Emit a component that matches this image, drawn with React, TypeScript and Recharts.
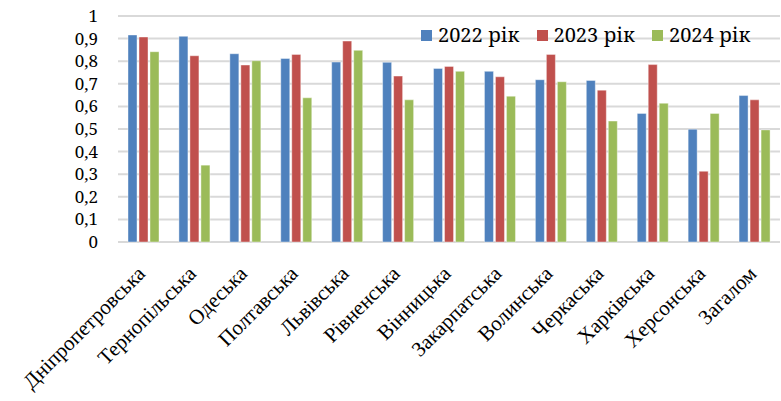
import React from "react"
import { Bar, BarChart, CartesianGrid, Legend, XAxis, YAxis } from "recharts"

const regions = [
  "Дніпропетровська",
  "Тернопільська",
  "Одеська",
  "Полтавська",
  "Львівська",
  "Рівненська",
  "Вінницька",
  "Закарпатська",
  "Волинська",
  "Черкаська",
  "Харківська",
  "Херсонська",
  "Загалом",
]

const values2022 = [0.916, 0.91, 0.833, 0.812, 0.796, 0.795, 0.768, 0.755, 0.718, 0.715, 0.569, 0.499, 0.648]
const values2023 = [0.907, 0.824, 0.783, 0.83, 0.889, 0.734, 0.777, 0.731, 0.83, 0.672, 0.785, 0.313, 0.629]
const values2024 = [0.842, 0.34, 0.802, 0.638, 0.848, 0.629, 0.755, 0.645, 0.709, 0.535, 0.614, 0.569, 0.496]

const yTicks = [0, 0.1, 0.2, 0.3, 0.4, 0.5, 0.6, 0.7, 0.8, 0.9, 1]

const series = [
  { key: "y2022", name: "2022 рік", color: "#4f81bd", values: values2022 },
  { key: "y2023", name: "2023 рік", color: "#c0504d", values: values2023 },
  { key: "y2024", name: "2024 рік", color: "#9bbb59", values: values2024 },
]

const data = regions.map((name, i) => {
  const row: Record<string, string | number> = { name }
  series.forEach((s) => {
    row[s.key] = s.values[i]
  })
  return row
})

// category labels look like Times, ticks and legend like Cambria
const labelFont = "Liberation Serif"
const numFont = "Noto Serif"

function RegionTick(props: any) {
  const { x, y, payload } = props
  const px = x + 3
  const py = y + 33
  return (
    <g style={{ fontFamily: labelFont }}>
      <text
        x={px}
        y={py}
        transform={`rotate(-45, ${px}, ${py})`}
        textAnchor="end"
        fontFamily={labelFont}
        style={{ fontFamily: labelFont, fontSize: 21 }}
        fill="#000"
      >
        {payload.value}
      </text>
    </g>
  )
}

function LegendBox() {
  return (
    <div style={{ display: "flex", fontFamily: numFont, fontSize: 20, lineHeight: "22px", color: "#000" }}>
      {series.map((s) => (
        <div key={s.key} style={{ display: "flex", alignItems: "center", width: 115.5 }}>
          <span style={{ width: 11, height: 11, background: s.color, marginRight: 6, display: "inline-block" }} />
          <span style={{ whiteSpace: "nowrap" }}>{s.name}</span>
        </div>
      ))}
    </div>
  )
}

export default function App() {
  return (
    <div style={{ position: "absolute", left: 0, top: 0, background: "#fff" }}>
      <BarChart
        width={781}
        height={401}
        data={data}
        margin={{ top: 16, right: 1, bottom: 0, left: 0 }}
        barSize={9}
        barGap={2}
      >
        <CartesianGrid vertical={false} stroke="#d9d9d9" strokeWidth={2} />
        <XAxis
          dataKey="name"
          interval={0}
          height={159}
          tickLine={false}
          axisLine={false}
          tickSize={0}
          tickMargin={0}
          tick={<RegionTick />}
        />
        <YAxis
          width={118}
          domain={[0, 1]}
          ticks={yTicks}
          interval={0}
          tickLine={false}
          axisLine={false}
          tickSize={0}
          tickMargin={20}
          tick={{ fontFamily: numFont, fontSize: 17, fill: "#000" }}
          tickFormatter={(v) => String(v).replace(".", ",")}
        />
        <Legend
          layout="vertical"
          align="center"
          verticalAlign="middle"
          content={<LegendBox />}
          wrapperStyle={{ position: "absolute", left: 421, top: 24, width: "auto" }}
        />
        {series.map((s) => (
          <Bar
            key={s.key}
            dataKey={s.key}
            name={s.name}
            fill={s.color}
            stroke="#ffffff"
            strokeOpacity={0.4}
            strokeWidth={1}
            isAnimationActive={false}
          />
        ))}
      </BarChart>
    </div>
  )
}
